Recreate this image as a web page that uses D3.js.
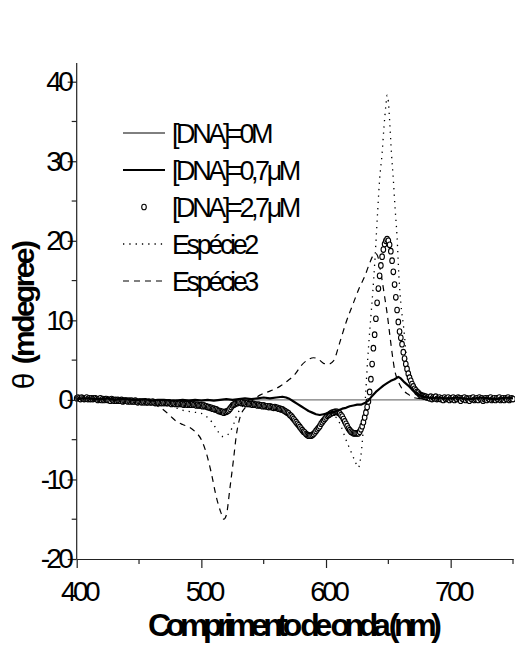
<!DOCTYPE html>
<html><head><meta charset="utf-8">
<script src="https://cdn.jsdelivr.net/npm/d3@7"></script>
<style>body{margin:0;background:#fff;} svg{display:block;}</style>
</head><body><svg id="chart" width="515" height="648"></svg>
<script>
// ---------- data ----------
const xTicks = [400, 500, 600, 700];
const xMinorTicks = [450, 550, 650, 750];
const yTicks = [-20, -10, 0, 10, 20, 30, 40];
const yMinorTicks = [-15, -5, 5, 15, 25, 35];
const seriesNames = ["[DNA]=0M", "[DNA]=0,7\u03BCM", "[DNA]=2,7\u03BCM", "Espécie2", "Espécie3"];
const xTitle = "Comprimento de onda (nm)";
const yTitleSymbol = "\u03B8";
const yTitleUnit = "(mdegree)";

// [DNA]=0M (flat)
const dna0 = [[400, 0], [750, 0]];

// [DNA]=0,7 uM
const dna07 = [[400,0.1],[405,0.2],[410,0.2],[415,0.1],[420,0.1],[425,0.2],[430,0.0],[435,0.1],[440,0.1],[445,0.0],[450,0.0],[455,0.1],[460,-0.1],[465,0.0],[470,0.0],[475,-0.1],[480,-0.1],[485,0.0],[490,-0.1],[495,0.0],[500,-0.1],[505,0.0],[510,-0.1],[515,0.0],[520,0.1],[525,0.0],[530,0.1],[535,0.2],[540,0.1],[545,0.2],[550,0.3],[555,0.2],[560,0.3],[565,0.4],[568,0.3],[571,0.1],[574,-0.2],[577,-0.5],[580,-0.8],[583,-1.1],[586,-1.4],[589,-1.6],[592,-1.8],[595,-1.9],[598,-1.8],[601,-1.7],[604,-1.6],[607,-1.5],[610,-1.3],[613,-1.1],[616,-1.0],[619,-0.8],[622,-0.7],[625,-0.6],[628,-0.6],[631,-0.4],[634,-0.1],[637,0.5],[640,1.0],[643,1.4],[646,1.8],[649,2.1],[652,2.4],[655,2.6],[658,2.9],[660,2.7],[663,2.2],[666,1.8],[669,1.3],[672,0.9],[675,0.6],[678,0.4],[682,0.3],[686,0.2],[690,0.3],[695,0.2],[700,0.2],[705,0.3],[710,0.2],[715,0.1],[720,0.2],[725,0.3],[730,0.2],[735,0.1],[740,0.2],[745,0.3],[750,0.2]];

// [DNA]=2,7 uM, one value per nm from 400 nm
const dna27Start = 400;
const dna27 = [
0.2,0.3,0.2,0.1,0.3,0.2,0.1,0.2,0.3,0.1,
0.2,0.1,0.2,0.1,0.2,0.2,0.1,0.0,0.1,0.2,
0.0,0.1,0.0,0.1,0.1,0.0,0.0,-0.1,0.1,0.0,
-0.1,0.0,-0.1,0.0,-0.1,-0.1,0.0,-0.2,-0.1,-0.1,
-0.1,-0.2,-0.1,-0.2,-0.1,-0.2,-0.2,-0.1,-0.2,-0.3,
-0.2,-0.2,-0.3,-0.2,-0.3,-0.2,-0.3,-0.3,-0.2,-0.3,
-0.3,-0.2,-0.3,-0.4,-0.3,-0.3,-0.4,-0.3,-0.4,-0.3,
-0.4,-0.3,-0.4,-0.4,-0.3,-0.4,-0.5,-0.4,-0.4,-0.5,
-0.4,-0.5,-0.5,-0.4,-0.5,-0.5,-0.6,-0.5,-0.5,-0.6,
-0.5,-0.6,-0.6,-0.5,-0.6,-0.6,-0.7,-0.6,-0.7,-0.7,
-0.7,-0.8,-0.7,-0.8,-0.8,-0.9,-0.9,-1.0,-1.0,-1.1,
-1.1,-1.2,-1.2,-1.3,-1.4,-1.4,-1.5,-1.5,-1.6,-1.5,
-1.5,-1.4,-1.3,-1.1,-0.9,-0.7,-0.6,-0.5,-0.4,-0.4,
-0.3,-0.3,-0.4,-0.3,-0.4,-0.4,-0.5,-0.4,-0.5,-0.5,
-0.5,-0.6,-0.5,-0.6,-0.6,-0.7,-0.6,-0.7,-0.7,-0.8,
-0.7,-0.8,-0.8,-0.8,-0.9,-0.8,-0.9,-0.9,-1.0,-0.9,
-1.0,-1.0,-1.1,-1.1,-1.2,-1.2,-1.3,-1.4,-1.5,-1.6,
-1.7,-1.9,-2.0,-2.2,-2.4,-2.6,-2.8,-3.0,-3.2,-3.4,
-3.6,-3.8,-4.0,-4.1,-4.3,-4.4,-4.5,-4.5,-4.5,-4.4,
-4.3,-4.1,-3.9,-3.7,-3.5,-3.3,-3.0,-2.8,-2.6,-2.4,
-2.2,-2.0,-1.9,-1.8,-1.7,-1.6,-1.6,-1.5,-1.5,-1.5,
-1.6,-1.7,-1.9,-2.1,-2.4,-2.7,-3.0,-3.3,-3.6,-3.8,
-4.0,-4.1,-4.2,-4.2,-4.2,-4.2,-4.2,-4.0,-3.7,-3.3,
-2.8,-2.2,-1.6,-0.9,-0.2,1.0,2.6,4.5,6.5,8.2,
10.2,12.2,14.0,15.6,16.9,18.0,18.9,19.6,20.0,20.2,
20.0,19.5,18.7,17.5,16.1,14.5,12.9,11.3,9.8,8.6,
7.8,7.0,6.0,5.2,4.5,3.9,3.3,2.8,2.4,2.0,
1.7,1.4,1.2,1.0,0.9,0.7,0.6,0.5,0.5,0.4,
0.4,0.3,0.3,0.2,0.4,0.1,0.3,0.2,0.4,0.1,
0.2,0.3,0.1,0.2,0.0,0.3,0.1,0.2,0.3,0.0,
0.2,0.1,0.3,0.0,0.2,0.1,0.3,0.2,-0.1,0.2,
0.1,0.3,0.0,0.2,0.1,-0.1,0.2,0.1,0.3,0.0,
0.1,0.2,0.0,0.3,0.1,0.2,-0.1,0.1,0.2,0.0,
0.2,0.1,0.3,0.0,0.1,0.2,0.0,0.2,0.1,0.3,
0.0,0.1,0.2,0.0,0.2,0.1,0.3,0.0,0.1,0.2,
0.1];

// Espécie2 (dotted)
const especie2 = [[400,0.0],[450,0.0],[460,-0.2],[470,-0.5],[478,-0.9],[485,-1.3],[492,-1.5],[500,-1.7],[505,-2.2],[509,-2.9],[513,-3.9],[517,-4.6],[520,-4.5],[523,-4.0],[526,-3.0],[528,-2.1],[532,-1.0],[536,-0.6],[545,-0.6],[555,-0.8],[565,-1.2],[572,-1.9],[578,-3.0],[583,-4.0],[588,-4.5],[593,-4.0],[598,-3.0],[603,-2.2],[608,-2.2],[612,-3.3],[616,-5.0],[620,-6.5],[623,-7.6],[626,-8.5],[628,-7.0],[630,-3.5],[631.5,0.0],[633,4.0],[634.5,7.5],[636,10.5],[637.5,13.5],[639,17.0],[640,19.7],[641.5,23.9],[643,27.7],[645,31.0],[646.5,34.3],[648,37.0],[649,38.3],[650,37.5],[651,35.2],[652.5,31.0],[654,27.7],[655.5,23.9],[657,20.5],[658.5,15.5],[660,12.2],[662.5,8.8],[665,4.6],[668,2.5],[671,1.4],[675,0.6],[680,0.2],[690,0.0],[750,0.0]];

// Espécie3 (dashed)
const especie3 = [[400,0.0],[420,0.0],[440,0.0],[450,-0.1],[455,-0.2],[460,-0.4],[465,-0.8],[470,-1.3],[475,-2.0],[480,-2.7],[485,-3.1],[490,-3.4],[495,-4.0],[500,-5.0],[504,-6.7],[508,-9.2],[512,-12.2],[516,-14.3],[518,-15.0],[520,-14.5],[523,-11.0],[526,-7.2],[528,-4.5],[531,-2.2],[535,-1.0],[540,-0.2],[547,0.6],[555,1.1],[563,1.7],[570,2.5],[575,3.2],[580,4.3],[585,5.0],[590,5.3],[594,5.1],[598,4.6],[602,4.5],[606,4.9],[611,7.2],[616,9.7],[622,12.2],[627,14.2],[631,15.5],[635,17.2],[638,18.2],[640,18.4],[642,17.8],[644,16.0],[647,13.0],[649,10.9],[651,8.4],[653,5.9],[655,3.8],[658,2.3],[662,1.2],[666,0.7],[670,0.3],[680,0.1],[700,0.0],[750,0.0]];

// ---------- drawing ----------
const svg = d3.select("#chart");
const FONT = "'Liberation Sans', Arial, sans-serif";
const x = d3.scaleLinear().domain([400, 750]).range([76.7, 513]);
const y = d3.scaleLinear().domain([-20, 40]).range([559, 81.7]);
const yTopPx = 63;

const plot = svg.append("g");

const line = d3.line().x(d => x(d[0])).y(d => y(d[1]));
const smooth = d3.line().x(d => x(d[0])).y(d => y(d[1])).curve(d3.curveMonotoneX);

plot.append("path").datum(dna0).attr("d", line)
  .attr("fill", "none").attr("stroke", "#7a7a7a").attr("stroke-width", 1.3);

plot.append("path").datum(especie2).attr("d", smooth)
  .attr("fill", "none").attr("stroke", "#000").attr("stroke-width", 1.3)
  .attr("stroke-dasharray", "1.3,5");

plot.append("path").datum(especie3).attr("d", smooth)
  .attr("fill", "none").attr("stroke", "#000").attr("stroke-width", 1.2)
  .attr("stroke-dasharray", "6,5");

const circData = dna27.map((v, i) => [dna27Start + i, v]);
plot.append("g").selectAll("ellipse").data(circData).join("ellipse")
  .attr("cx", d => x(d[0])).attr("cy", d => y(d[1])).attr("rx", 2.3).attr("ry", 2.8)
  .attr("fill", "#fff").attr("stroke", "#000").attr("stroke-width", 1.1);

plot.append("path").datum(dna07).attr("d", line)
  .attr("fill", "none").attr("stroke", "#000").attr("stroke-width", 2.2)
  .attr("stroke-linejoin", "round");

// axes
const xAxis = d3.axisBottom(x).tickValues(xTicks).tickSize(9).tickSizeOuter(0)
  .tickPadding(13).tickFormat(d => String(d));
const gx = svg.append("g").attr("transform", "translate(0,559)").call(xAxis);
gx.append("g").selectAll("line").data(xMinorTicks).join("line")
  .attr("x1", d => x(d)).attr("x2", d => x(d)).attr("y1", 0).attr("y2", 5)
  .attr("stroke", "#222").attr("stroke-width", 1.2);

const yAxis = d3.axisLeft(y).tickValues(yTicks).tickSize(9).tickSizeOuter(0)
  .tickPadding(1).tickFormat(d => String(d));
const gy = svg.append("g").attr("transform", "translate(76.7,0)").call(yAxis);
gy.append("g").selectAll("line").data(yMinorTicks).join("line")
  .attr("y1", d => y(d)).attr("y2", d => y(d)).attr("x1", 0).attr("x2", -5)
  .attr("stroke", "#222").attr("stroke-width", 1.2);
gy.select(".domain").attr("d", `M0,${y(-20)}V${yTopPx}`);

[gx, gy].forEach(g => {
  g.select(".domain").attr("stroke", "#222").attr("stroke-width", 1.2);
  g.selectAll(".tick line").attr("stroke", "#222").attr("stroke-width", 1.2);
  g.selectAll(".tick text").attr("font-family", FONT).attr("font-size", 28)
    .attr("letter-spacing", "-3.6px").attr("fill", "#000");
});
gy.selectAll(".tick text").attr("dx", "3.6px");
gx.selectAll(".tick text").attr("dx", "1.8px");

// axis titles
svg.append("text").attr("x", 295).attr("y", 636)
  .attr("text-anchor", "middle").attr("font-family", FONT)
  .attr("font-weight", "bold").attr("font-size", 32)
  .attr("textLength", 294).attr("lengthAdjust", "spacing")
  .text(xTitle);

const yt = svg.append("text")
  .attr("transform", "translate(34,316) rotate(-90)")
  .attr("text-anchor", "middle").attr("font-family", FONT).attr("font-size", 30);
yt.append("tspan").text(yTitleSymbol + " ");
yt.append("tspan").attr("font-weight", "bold").attr("letter-spacing", "-2.6px").text(yTitleUnit);

// legend
const legX0 = 123, legX1 = 165, legTextX = 172, legY0 = 133, legStep = 37;
const styles = [
  {type: "line", stroke: "#000", width: 1},
  {type: "line", stroke: "#000", width: 2.2},
  {type: "circle"},
  {type: "line", stroke: "#000", width: 1.3, dash: "1.3,5"},
  {type: "line", stroke: "#000", width: 1.2, dash: "6,5"}
];
const leg = svg.append("g");
seriesNames.forEach((name, i) => {
  const yy = legY0 + i * legStep;
  const s = styles[i];
  if (s.type === "line") {
    leg.append("line").attr("x1", legX0).attr("x2", legX1).attr("y1", yy).attr("y2", yy)
      .attr("stroke", s.stroke).attr("stroke-width", s.width)
      .attr("stroke-dasharray", s.dash || null);
  } else {
    leg.append("ellipse").attr("cx", (legX0 + legX1) / 2).attr("cy", yy).attr("rx", 2.3).attr("ry", 2.8)
      .attr("fill", "#fff").attr("stroke", "#000").attr("stroke-width", 1.1);
  }
  leg.append("text").attr("x", legTextX).attr("y", yy + 10)
    .attr("font-family", FONT).attr("font-size", 27).attr("letter-spacing", "-3.4px")
    .text(name);
});
</script>
</body></html>
